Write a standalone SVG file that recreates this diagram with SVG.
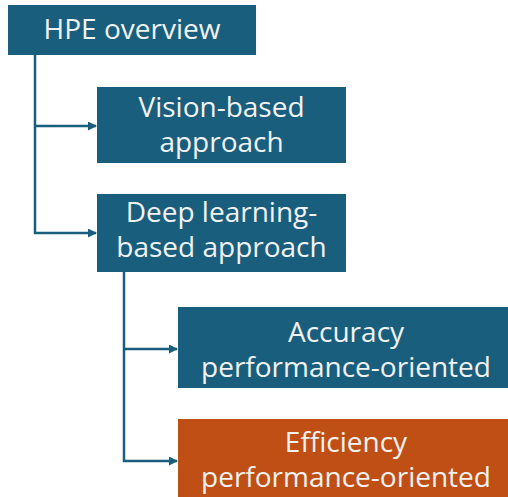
<svg xmlns="http://www.w3.org/2000/svg" width="508" height="497" viewBox="0 0 508 497">
  <defs>
    <marker id="arrow" markerWidth="9" markerHeight="9" refX="8" refY="4.5" orient="auto" markerUnits="userSpaceOnUse">
      <path d="M0,0 L9,4.5 L0,9 Z" fill="#1A5E7E"/>
    </marker>
    <style>
      .box { fill: #1A5E7E; }
      .box.alt { fill: #C04F15; }
      .label { font-family: "Open Sans", "Liberation Sans", sans-serif; font-size: 28px; fill: #F2F2F2; text-anchor: middle; }
      .link { fill: none; stroke: #1A5E7E; stroke-width: 2.5; marker-end: url(#arrow); }
    </style>
  </defs>
  <rect width="508" height="497" fill="#FFFFFF"/>

  <g id="connectors">
    <path class="link" d="M35 55 V233 H96"/>
    <path class="link" d="M35 126 H96"/>
    <path class="link" d="M124 272 V461 H177"/>
    <path class="link" d="M124 349 H177"/>
  </g>

  <g id="hpe-overview">
    <rect class="box" x="8" y="5" width="248" height="50"/>
    <text class="label" x="132" y="39">HPE overview</text>
  </g>

  <g id="vision-based">
    <rect class="box" x="97" y="87" width="249" height="76"/>
    <text class="label" x="221.5" y="117">Vision-based</text>
    <text class="label" x="221.5" y="152">approach</text>
  </g>

  <g id="deep-learning">
    <rect class="box" x="97" y="194" width="249" height="78"/>
    <text class="label" x="221.5" y="222">Deep learning-</text>
    <text class="label" x="221.5" y="257">based approach</text>
  </g>

  <g id="accuracy">
    <rect class="box" x="178" y="307" width="336" height="81"/>
    <text class="label" x="346" y="342">Accuracy</text>
    <text class="label" x="346" y="377">performance-oriented</text>
  </g>

  <g id="efficiency">
    <rect class="box alt" x="178" y="419" width="336" height="85"/>
    <text class="label" x="346" y="452">Efficiency</text>
    <text class="label" x="346" y="487">performance-oriented</text>
  </g>
</svg>
